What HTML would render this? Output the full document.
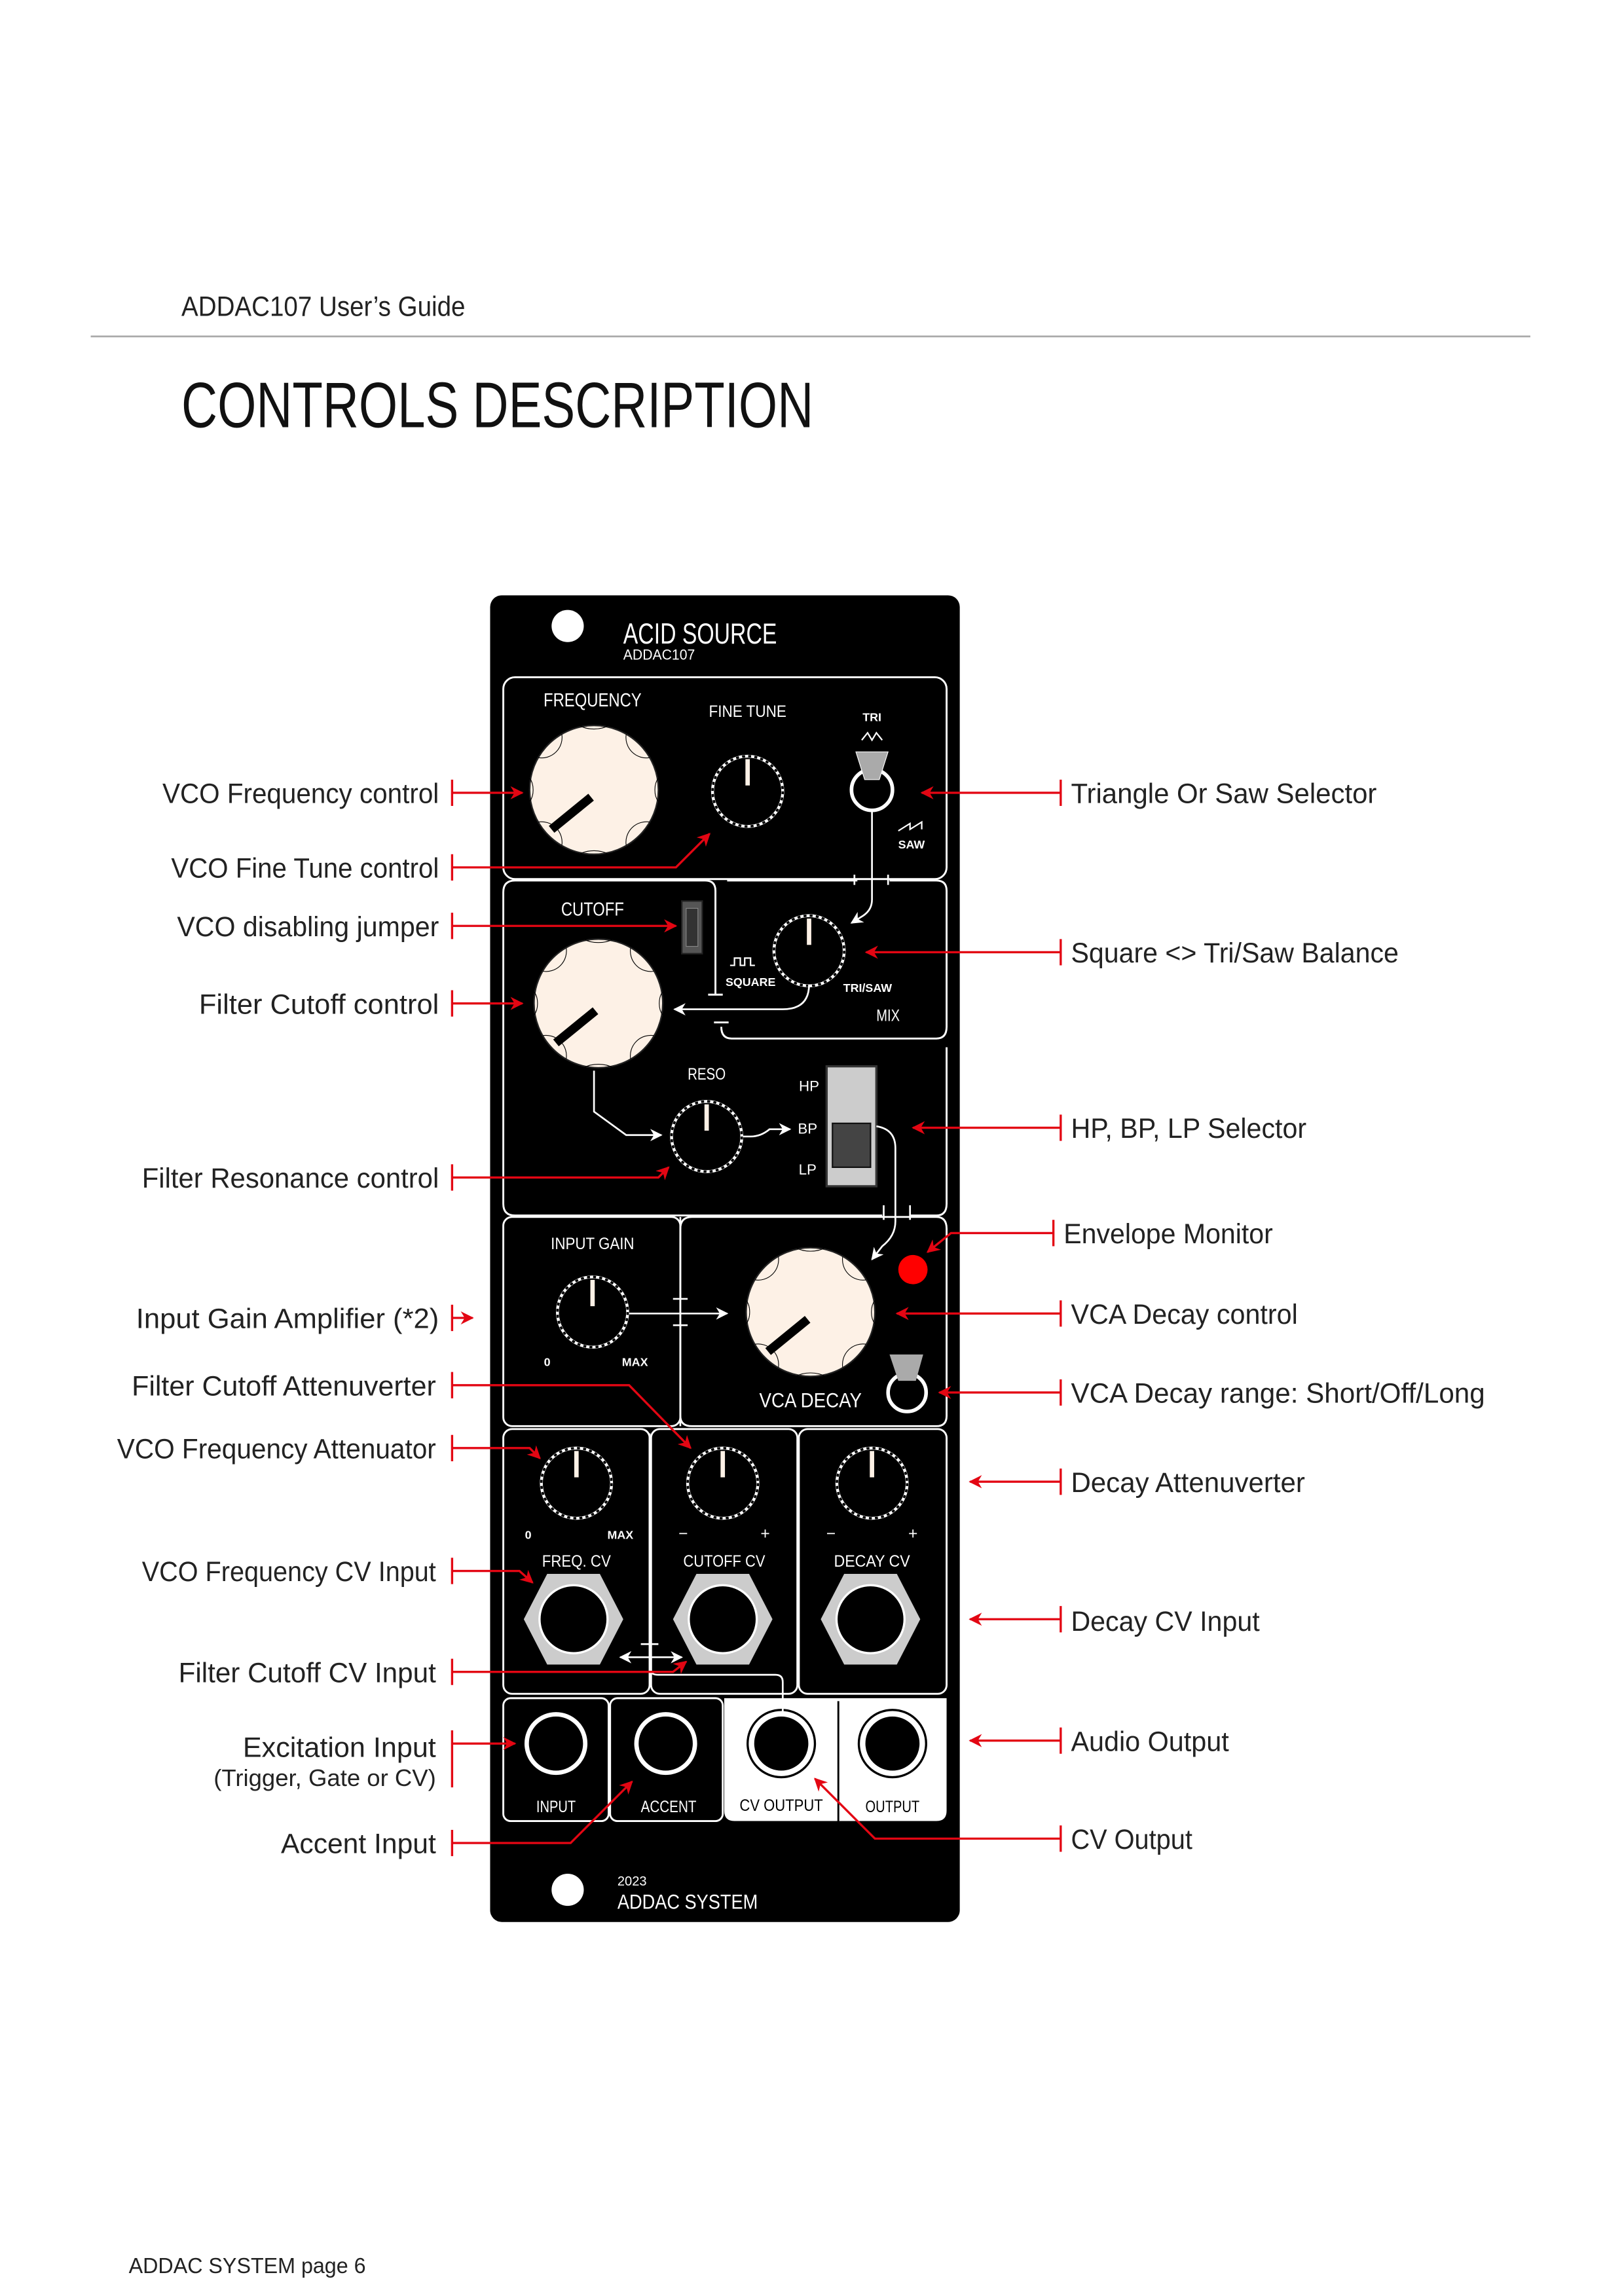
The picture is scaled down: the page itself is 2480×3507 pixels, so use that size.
<!DOCTYPE html>
<html><head><meta charset="utf-8"><style>
html,body{margin:0;padding:0;background:#fff;}
svg{display:block;}
text{font-family:"Liberation Sans",sans-serif;}
</style></head><body>
<svg width="2480" height="3507" viewBox="0 0 1110 1569.7" xmlns="http://www.w3.org/2000/svg">
<defs>
<marker id="ar" viewBox="0 0 10 10" refX="9" refY="5" markerWidth="6" markerHeight="6" orient="auto"><path d="M0,0 L10,5 L0,10 L3,5z" fill="#e30613"/></marker>
<marker id="aw" viewBox="0 0 10 10" refX="9" refY="5" markerWidth="7" markerHeight="7" orient="auto"><path d="M0,0 L10,5 L0,10 L3,5z" fill="#fff"/></marker>
<g id="sk"><circle r="25" fill="#fff"/><circle r="23" fill="#000"/><circle r="24" fill="none" stroke="#000" stroke-width="1.6" stroke-dasharray="2 2.2"/><rect x="-1.5" y="-22" width="3" height="18" fill="#fdf1e6"/></g>
<g id="bk"><circle r="46" fill="#000"/><circle r="44" fill="#fdf1e6" stroke="#222" stroke-width="1"/>
<path d="M-22,-38 a14,14 0 0 1 -16,16 M22,-38 a14,14 0 0 0 16,16 M-22,38 a14,14 0 0 0 -16,-16 M22,38 a14,14 0 0 1 16,-16 M-10,-44 a14,8 0 0 0 20,0 M-10,44 a14,8 0 0 1 20,0 M-44,-8 a6,10 0 0 1 0,16 M44,-8 a6,10 0 0 0 0,16" fill="none" stroke="#000" stroke-width="0.5"/>
<line x1="-29" y1="27" x2="-2" y2="5" stroke="#000" stroke-width="6"/></g>
<g id="hex"><polygon points="-18,-31 18,-31 34,0 18,31 -18,31 -34,0" fill="#ccc"/><circle r="24" fill="#fff"/><circle r="21" fill="#000"/><circle r="21.5" fill="none" stroke="#000" stroke-width="2"/></g>
</defs>

<text x="124" y="216" font-size="19" fill="#222" textLength="194" lengthAdjust="spacingAndGlyphs">ADDAC107 User’s Guide</text>
<line x1="62" y1="230" x2="1046" y2="230" stroke="#aaa" stroke-width="1.2"/>
<text x="124" y="292" font-size="44" fill="#111" textLength="432" lengthAdjust="spacingAndGlyphs">CONTROLS DESCRIPTION</text>
<text x="88" y="1554" font-size="15" fill="#222" textLength="162" lengthAdjust="spacingAndGlyphs">ADDAC SYSTEM  page 6</text>

<rect x="335" y="407" width="321" height="907" rx="8" fill="#000"/>
<circle cx="388" cy="428" r="11" fill="#fff"/>
<text x="426" y="440" font-size="20" fill="#fff" textLength="105" lengthAdjust="spacingAndGlyphs">ACID  SOURCE</text>
<text x="426" y="451" font-size="10" fill="#fff" textLength="49" lengthAdjust="spacingAndGlyphs">ADDAC107</text>
<circle cx="388" cy="1292" r="11" fill="#fff"/>
<text x="422" y="1289" font-size="9" fill="#fff">2023</text>
<text x="422" y="1305" font-size="14" fill="#fff" textLength="96" lengthAdjust="spacingAndGlyphs">ADDAC SYSTEM</text>

<g fill="none" stroke="#fff" stroke-width="1.3">
<rect x="344" y="463" width="303" height="138" rx="8"/>
<path d="M352,602 H482 Q489,602 489,609 V680 M484,680 H494 M344,610 Q344,602 352,602 M344,610 V823 Q344,831 352,831 H603"/>
<path d="M497,602 H586 M608,602 H640 Q647,602 647,609 V702 Q647,710 640,710 H500 Q493,710 493,702 M488,699 H498"/>
<path d="M647,716 V823 Q647,831 640,831 H622"/>
<rect x="344" y="832" width="121" height="143" rx="6"/>
<path d="M465,840 Q465,832 473,832 H640 Q647,832 647,840 V968 Q647,975 640,975 H473 Q465,975 465,968"/>
<rect x="344" y="977" width="100" height="181" rx="6"/>
<rect x="445" y="977" width="100" height="181" rx="6"/>
<rect x="546" y="977" width="101" height="181" rx="6"/>
<rect x="344" y="1161" width="72" height="84" rx="5"/>
<rect x="417" y="1161" width="77" height="84" rx="5"/>
</g>
<path d="M495,1161 H647 V1238 Q647,1245 640,1245 H502 Q495,1245 495,1238Z" fill="#fff"/>
<line x1="573" y1="1163" x2="573" y2="1245" stroke="#000" stroke-width="1.3"/>

<use href="#bk" x="406" y="540"/>
<use href="#bk" x="409" y="686"/>
<use href="#bk" x="554" y="897"/>
<use href="#sk" x="511" y="541"/>
<use href="#sk" x="553" y="650"/>
<use href="#sk" x="483" y="777"/>
<use href="#sk" x="405" y="897"/>
<use href="#sk" x="394" y="1014"/>
<use href="#sk" x="494" y="1014"/>
<use href="#sk" x="596" y="1014"/>

<circle cx="596" cy="540" r="14" fill="none" stroke="#fff" stroke-width="2.5"/>
<polygon points="585,514 607,514 601,533 591,533" fill="#aaa" stroke="#fff" stroke-width="0.5"/>
<path d="M589,506 l4,-5 l3,5 l3,-5 l4,5" fill="none" stroke="#fff" stroke-width="1"/>
<text x="596" y="493" font-size="8" fill="#fff" text-anchor="middle" font-weight="bold">TRI</text>
<path d="M614,568 l8,-5 v4 l8,-5 v5" fill="none" stroke="#fff" stroke-width="1"/>
<text x="623" y="580" font-size="8" fill="#fff" text-anchor="middle" font-weight="bold">SAW</text>
<circle cx="620" cy="952" r="13" fill="none" stroke="#fff" stroke-width="2.5"/>
<polygon points="608,926 631,926 626,944 614,944" fill="#aaa"/>
<rect x="466" y="616" width="14" height="36" fill="#555" stroke="#222"/>
<rect x="469" y="621" width="8" height="26" fill="#333" stroke="#888" stroke-width="0.5"/>
<rect x="565" y="729" width="34" height="82" fill="#ccc" stroke="#333" stroke-width="1.5"/>
<rect x="569" y="768" width="26" height="30" fill="#444" stroke="#111"/>
<circle cx="624" cy="868" r="10" fill="#f00"/>

<use href="#hex" x="392" y="1107"/>
<use href="#hex" x="494" y="1107"/>
<use href="#hex" x="595" y="1107"/>
<g stroke-width="3">
<circle cx="380" cy="1192" r="20" fill="#000" stroke="#fff"/>
<circle cx="455" cy="1192" r="20" fill="#000" stroke="#fff"/>
<circle cx="534" cy="1192" r="20" fill="#000" stroke="#fff"/>
<circle cx="610" cy="1192" r="20" fill="#000" stroke="#fff"/>
</g>
<circle cx="534" cy="1192" r="23" fill="none" stroke="#000" stroke-width="1.5"/>
<circle cx="610" cy="1192" r="23" fill="none" stroke="#000" stroke-width="1.5"/>

<g fill="#fff" text-anchor="middle" lengthAdjust="spacingAndGlyphs">
<text x="405" y="483" font-size="13" textLength="67" lengthAdjust="spacingAndGlyphs">FREQUENCY</text>
<text x="511" y="490" font-size="11" textLength="53" lengthAdjust="spacingAndGlyphs">FINE  TUNE</text>
<text x="405" y="626" font-size="13" textLength="43" lengthAdjust="spacingAndGlyphs">CUTOFF</text>
<path d="M499,660 h3 v-5 h4 v5 h3 v-5 h4 v5 h3" fill="none" stroke="#fff" stroke-width="1"/>
<text x="513" y="674" font-size="8" font-weight="bold">SQUARE</text>
<text x="593" y="678" font-size="8" font-weight="bold">TRI/SAW</text>
<text x="607" y="698" font-size="11" textLength="16" lengthAdjust="spacingAndGlyphs">MIX</text>
<text x="483" y="738" font-size="11" textLength="26" lengthAdjust="spacingAndGlyphs">RESO</text>
<text x="553" y="746" font-size="10">HP</text>
<text x="552" y="775" font-size="10">BP</text>
<text x="552" y="803" font-size="10">LP</text>
<text x="405" y="854" font-size="11" textLength="57" lengthAdjust="spacingAndGlyphs">INPUT  GAIN</text>
<text x="374" y="934" font-size="8" font-weight="bold">0</text>
<text x="434" y="934" font-size="8" font-weight="bold">MAX</text>
<text x="554" y="962" font-size="14" textLength="70" lengthAdjust="spacingAndGlyphs">VCA  DECAY</text>
<text x="361" y="1052" font-size="8" font-weight="bold">0</text>
<text x="424" y="1052" font-size="8" font-weight="bold">MAX</text>
<text x="467" y="1052" font-size="11">−</text><text x="523" y="1052" font-size="11">+</text>
<text x="568" y="1052" font-size="11">−</text><text x="624" y="1052" font-size="11">+</text>
<text x="394" y="1071" font-size="11" textLength="47" lengthAdjust="spacingAndGlyphs">FREQ.  CV</text>
<text x="495" y="1071" font-size="11" textLength="56" lengthAdjust="spacingAndGlyphs">CUTOFF  CV</text>
<text x="596" y="1071" font-size="11" textLength="52" lengthAdjust="spacingAndGlyphs">DECAY  CV</text>
<text x="380" y="1239" font-size="11" textLength="27" lengthAdjust="spacingAndGlyphs">INPUT</text>
<text x="457" y="1239" font-size="11" textLength="38" lengthAdjust="spacingAndGlyphs">ACCENT</text>
</g>
<text x="534" y="1238" font-size="11" text-anchor="middle" fill="#000" textLength="57" lengthAdjust="spacingAndGlyphs">CV  OUTPUT</text>
<text x="610" y="1239" font-size="11" text-anchor="middle" fill="#000" textLength="37" lengthAdjust="spacingAndGlyphs">OUTPUT</text>

<g fill="none" stroke="#fff" stroke-width="1.2">
<path d="M596,555 V615 Q596,622 590,626 L582,631" marker-end="url(#aw)"/>
<path d="M553,673 Q553,690 535,690 H461" marker-end="url(#aw)"/>
<path d="M406,732 V760 L428,776 H452" marker-end="url(#aw)"/>
<path d="M508,777 H513 Q520,777 526,772 H540" marker-end="url(#aw)"/>
<path d="M599,770 Q612,772 612,785 V835 Q612,845 603,852 L596,861" marker-end="url(#aw)"/>
<path d="M430,898 H497" marker-end="url(#aw)"/>
<path d="M465,832 V888 M460,888 H470 M465,975 V906 M460,906 H470"/>
<path d="M584,598 V605 M607,598 V605 M604,824 V834 M622,824 V834"/>
<path d="M444,980 V1124 M438,1124 H450"/>
<path d="M445,1133 H424" marker-end="url(#aw)"/><path d="M445,1133 H466" marker-end="url(#aw)"/>
<path d="M445,1133 V1142 Q445,1145 450,1145 H530 Q535,1145 535,1150 V1172"/>
</g>

<g fill="none" stroke="#e30613" stroke-width="1.5">
<path d="M309,533 V551 M309,542 H357" marker-end="url(#ar)"/>
<path d="M309,584 V602 M309,593 H462 L485,570" marker-end="url(#ar)"/>
<path d="M309,624 V642 M309,633 H462" marker-end="url(#ar)"/>
<path d="M309,677 V695 M309,686 H357" marker-end="url(#ar)"/>
<path d="M309,796 V814 M309,805 H450 L457,798" marker-end="url(#ar)"/>
<path d="M309,892 V910 M309,901 H323" marker-end="url(#ar)"/>
<path d="M309,938 V956 M309,947 H430 L472,990" marker-end="url(#ar)"/>
<path d="M309,981 V999 M309,990 H362 L369,997" marker-end="url(#ar)"/>
<path d="M309,1065 V1083 M309,1074 H355 L364,1082" marker-end="url(#ar)"/>
<path d="M309,1134 V1152 M309,1143 H460 L469,1136" marker-end="url(#ar)"/>
<path d="M309,1183 V1222 M309,1192 H352" marker-end="url(#ar)"/>
<path d="M309,1251 V1269 M309,1260 H390 L432,1218" marker-end="url(#ar)"/>
<path d="M725,533 V551 M725,542 H630" marker-end="url(#ar)"/>
<path d="M725,642 V660 M725,651 H592" marker-end="url(#ar)"/>
<path d="M725,762 V780 M725,771 H624" marker-end="url(#ar)"/>
<path d="M720,834 V852 M720,843 H650 L634,856" marker-end="url(#ar)"/>
<path d="M725,889 V907 M725,898 H613" marker-end="url(#ar)"/>
<path d="M725,943 V961 M725,952 H642" marker-end="url(#ar)"/>
<path d="M725,1004 V1022 M725,1013 H663" marker-end="url(#ar)"/>
<path d="M725,1098 V1116 M725,1107 H663" marker-end="url(#ar)"/>
<path d="M725,1181 V1199 M725,1190 H663" marker-end="url(#ar)"/>
<path d="M725,1248 V1266 M725,1257 H598 L557,1216" marker-end="url(#ar)"/>
</g>

<g font-size="19" fill="#222" text-anchor="end">
<text x="300" y="549" textLength="189" lengthAdjust="spacingAndGlyphs">VCO Frequency control</text>
<text x="300" y="600" textLength="183" lengthAdjust="spacingAndGlyphs">VCO Fine Tune control</text>
<text x="300" y="640" textLength="179" lengthAdjust="spacingAndGlyphs">VCO disabling jumper</text>
<text x="300" y="693" textLength="164" lengthAdjust="spacingAndGlyphs">Filter Cutoff control</text>
<text x="300" y="812" textLength="203" lengthAdjust="spacingAndGlyphs">Filter Resonance control</text>
<text x="300" y="908" textLength="207" lengthAdjust="spacingAndGlyphs">Input Gain Amplifier (*2)</text>
<text x="298" y="954" textLength="208" lengthAdjust="spacingAndGlyphs">Filter Cutoff Attenuverter</text>
<text x="298" y="997" textLength="218" lengthAdjust="spacingAndGlyphs">VCO Frequency Attenuator</text>
<text x="298" y="1081" textLength="201" lengthAdjust="spacingAndGlyphs">VCO Frequency CV Input</text>
<text x="298" y="1150" textLength="176" lengthAdjust="spacingAndGlyphs">Filter Cutoff CV Input</text>
<text x="298" y="1201" textLength="132" lengthAdjust="spacingAndGlyphs">Excitation Input</text>
<text x="298" y="1221" font-size="16" textLength="152" lengthAdjust="spacingAndGlyphs">(Trigger, Gate or CV)</text>
<text x="298" y="1267" textLength="106" lengthAdjust="spacingAndGlyphs">Accent Input</text>
</g>
<g font-size="19" fill="#222">
<text x="732" y="549" textLength="209" lengthAdjust="spacingAndGlyphs">Triangle Or Saw Selector</text>
<text x="732" y="658" textLength="224" lengthAdjust="spacingAndGlyphs">Square &lt;&gt; Tri/Saw Balance</text>
<text x="732" y="778" textLength="161" lengthAdjust="spacingAndGlyphs">HP, BP, LP Selector</text>
<text x="727" y="850" textLength="143" lengthAdjust="spacingAndGlyphs">Envelope Monitor</text>
<text x="732" y="905" textLength="155" lengthAdjust="spacingAndGlyphs">VCA Decay control</text>
<text x="732" y="959" textLength="283" lengthAdjust="spacingAndGlyphs">VCA Decay range: Short/Off/Long</text>
<text x="732" y="1020" textLength="160" lengthAdjust="spacingAndGlyphs">Decay Attenuverter</text>
<text x="732" y="1115" textLength="129" lengthAdjust="spacingAndGlyphs">Decay CV Input</text>
<text x="732" y="1197" textLength="108" lengthAdjust="spacingAndGlyphs">Audio Output</text>
<text x="732" y="1264" textLength="83" lengthAdjust="spacingAndGlyphs">CV Output</text>
</g>
</svg>
</body></html>
